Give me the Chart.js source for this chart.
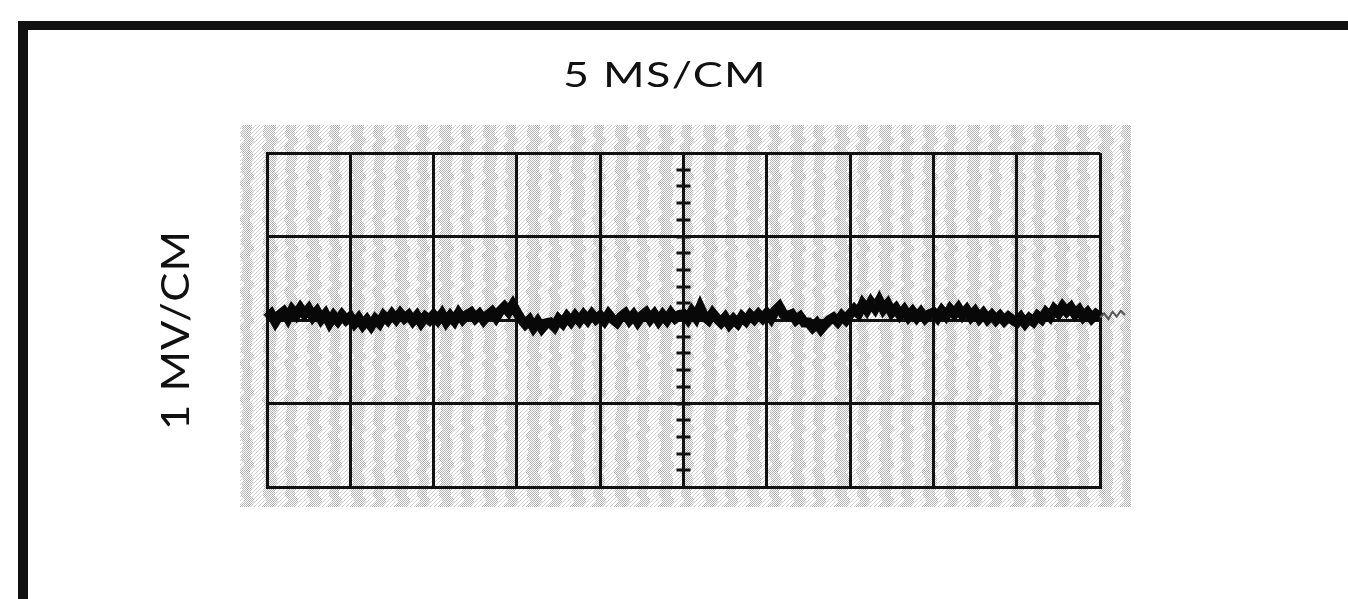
<!DOCTYPE html>
<html>
<head>
<meta charset="utf-8">
<title>Oscilloscope trace - 5 MS/CM, 1 MV/CM</title>
<script src="https://cdn.jsdelivr.net/npm/chart.js@4/dist/chart.umd.min.js"></script>
<style>
    html, body { margin: 0; padding: 0; background: #fff; }
    #wrap { position: relative; width: 1348px; height: 599px; overflow: hidden; }
    #scope { position: absolute; left: 0; top: 0; }
    /* the thick black frame of the printed figure */
    #frame {
        position: absolute; left: 18px; top: 21px; right: -20px; bottom: -20px;
        border-top: 9px solid #111; border-left: 10px solid #111;
        pointer-events: none;
    }
</style>
</head>
<body>
<div id="wrap">
    <canvas id="scope" width="1348" height="599"></canvas>
    <div id="frame"></div>
</div>
<script>
// Axis settings (screen divisions)
const timePerDivMs = 5;          // 5 MS/CM
const voltsPerDivMv = 1;         // 1 MV/CM
const timeDivisions = 10;
const voltDivisions = 4;
const sampleStepMs = 0.25;       // one reading every 0.25 ms

// Axis labels
const titleLabel = '5 MS/CM';
const yLabel = '1 MV/CM';

// Trace readings in mV, one division (5 ms) per row
const traceMv = [
    0.02, 0.07, -0.02, 0.06, 0.10, 0.02, 0.12, 0.06, 0.14, 0.07, 0.13, 0.04, 0.10, 0.01, 0.07, -0.03, 0.05, -0.01, 0.06, 0.00,
    0.04, -0.04, 0.02, -0.06, 0.00, -0.07, 0.01, -0.04, 0.05, 0.00, 0.07, 0.01, 0.08, 0.02, 0.06, -0.01, 0.05, -0.03, 0.04, 0.00,
    0.06, 0.00, 0.07, -0.02, 0.05, -0.01, 0.08, 0.01, 0.06, 0.09, 0.02, 0.07, 0.00, 0.06, 0.10, 0.03, 0.11, 0.16, 0.10, 0.18,
    0.09, 0.01, -0.05, 0.00, -0.09, -0.02, -0.10, -0.04, -0.03, -0.08, 0.01, -0.04, 0.04, -0.02, 0.05, -0.01, 0.06, 0.00, 0.07, 0.01,
    0.05, -0.01, 0.07, 0.01, -0.03, 0.04, 0.08, 0.00, 0.06, -0.02, 0.05, 0.09, 0.01, 0.07, -0.01, 0.06, 0.00, 0.08, 0.02, 0.06,
    0.07, 0.01, 0.10, 0.03, 0.15, 0.04, 0.00, 0.08, 0.02, -0.03, 0.03, -0.05, 0.01, -0.04, 0.04, -0.01, 0.06, 0.01, 0.07, 0.02,
    0.08, 0.02, 0.11, 0.16, 0.07, 0.05, 0.07, 0.00, 0.04, -0.03, -0.03, -0.09, -0.04, -0.11, -0.05, 0.00, 0.03, -0.02, 0.05, 0.00,
    0.07, 0.13, 0.08, 0.19, 0.12, 0.21, 0.14, 0.23, 0.13, 0.19, 0.09, 0.14, 0.06, 0.12, 0.04, 0.10, 0.03, 0.09, 0.02, 0.07,
    0.09, 0.03, 0.11, 0.05, 0.13, 0.07, 0.14, 0.06, 0.12, 0.04, 0.10, 0.02, 0.08, 0.01, 0.06, 0.00, 0.05, -0.01, 0.04, 0.00,
    -0.03, 0.03, -0.04, 0.02, -0.02, 0.05, 0.01, 0.09, 0.04, 0.13, 0.08, 0.16, 0.10, 0.15, 0.07, 0.12, 0.04, 0.09, 0.02, 0.07,
    // faint tail running off the right edge of the graticule
    0.03, 0.08, 0.01, 0.10, 0.04, 0.11, 0.06
];

const screenMaxMs = timePerDivMs * timeDivisions;
const halfScreenMv = voltsPerDivMv * voltDivisions / 2;

// Build {x, y} points from the readings
const tracePoints = traceMv.map((mv, i) => ({ x: i * sampleStepMs, y: mv }));

// Halftone look of the photographed screen: uneven columns of gray dots
function makeScreenPattern(ctx) {
    const tile = document.createElement('canvas');
    tile.width = 44;
    tile.height = 36;
    const t = tile.getContext('2d');
    for (let y = 0; y < tile.height; y++) {
        const wobble = Math.round(1.5 * Math.sin(y * Math.PI / 9) + Math.sin(y * Math.PI / 6));
        for (let x = 0; x < tile.width; x++) {
            const col = (x + wobble + 44) % 22;
            const wide = x < 22 ? 12 : 10;
            if (col < wide) {
                if ((x + y) % 2 === 0) {
                    t.fillStyle = '#b4b4b4';
                    t.fillRect(x, y, 1, 1);
                }
            } else if ((x + y) % 4 === 0) {
                t.fillStyle = '#d2d2d2';
                t.fillRect(x, y, 1, 1);
            }
        }
    }
    return ctx.createPattern(tile, 'repeat');
}

// Draws the screen background, the center axis minor ticks and the labels
const scopePlugin = {
    id: 'scopeScreen',
    beforeDraw(chart) {
        const { ctx, chartArea } = chart;
        ctx.save();
        ctx.fillStyle = makeScreenPattern(ctx);
        ctx.fillRect(chartArea.left - 27, chartArea.top - 28,
            chartArea.right - chartArea.left + 58, chartArea.bottom - chartArea.top + 48);
        ctx.restore();
    },
    beforeDatasetsDraw(chart) {
        const { ctx, scales } = chart;
        const cx = scales.x.getPixelForValue(screenMaxMs / 2);
        const minorStep = voltsPerDivMv / 5;
        ctx.save();
        ctx.strokeStyle = '#111';
        ctx.lineWidth = 3;
        ctx.beginPath();
        for (let v = -halfScreenMv + minorStep; v < halfScreenMv - 0.001; v += minorStep) {
            const py = Math.round(scales.y.getPixelForValue(v));
            ctx.moveTo(cx - 7, py);
            ctx.lineTo(cx + 7, py);
        }
        ctx.stroke();
        ctx.restore();
    },
    afterDraw(chart) {
        const { ctx } = chart;
        ctx.save();
        ctx.fillStyle = '#111';
        ctx.textAlign = 'center';
        ctx.textBaseline = 'alphabetic';

        // title above the graticule, stretched to the wide lettering of the print
        ctx.font = '34px Lato';
        ctx.letterSpacing = '1px';
        let w = ctx.measureText(titleLabel).width;
        ctx.translate(665, 87);
        ctx.scale(204 / w, 1);
        ctx.fillText(titleLabel, 0, 0);
        ctx.restore();

        // vertical label, reading bottom to top
        ctx.save();
        ctx.fillStyle = '#111';
        ctx.textAlign = 'center';
        ctx.textBaseline = 'alphabetic';
        ctx.font = '39px Lato';
        ctx.letterSpacing = '1px';
        w = ctx.measureText(yLabel).width;
        ctx.translate(189, 330);
        ctx.rotate(-Math.PI / 2);
        ctx.scale(200 / w, 1);
        ctx.fillText(yLabel, 0, 0);
        ctx.restore();
    }
};

const gridColor = '#111';

new Chart(document.getElementById('scope'), {
    type: 'line',
    data: {
        datasets: [{
            data: tracePoints,
            borderColor: '#080808',
            borderWidth: 10,
            borderJoinStyle: 'miter',
            borderCapStyle: 'butt',
            pointRadius: 0,
            tension: 0,
            clip: false,
            segment: {
                // tail outside the graticule is faint and thin
                borderWidth: c => (c.p0.parsed.x >= screenMaxMs ? 2 : undefined),
                borderColor: c => (c.p0.parsed.x >= screenMaxMs ? '#555' : undefined)
            }
        }]
    },
    options: {
        responsive: false,
        animation: false,
        events: [],
        layout: { padding: { left: 267, right: 248, top: 153, bottom: 112 } },
        plugins: {
            legend: { display: false },
            tooltip: { enabled: false },
            title: { display: false }
        },
        scales: {
            x: {
                type: 'linear',
                // set the range here so the tail past 50 ms is still drawn
                afterDataLimits: scale => { scale.min = 0; scale.max = screenMaxMs; },
                ticks: { display: false, stepSize: timePerDivMs },
                grid: { color: gridColor, lineWidth: 3, drawTicks: false },
                border: { display: true, color: gridColor, width: 3 }
            },
            y: {
                min: -halfScreenMv,
                max: halfScreenMv,
                ticks: { display: false, stepSize: voltsPerDivMv },
                grid: { color: gridColor, lineWidth: 3, drawTicks: false },
                border: { display: true, color: gridColor, width: 3 }
            }
        }
    },
    plugins: [scopePlugin]
});
</script>
</body>
</html>
